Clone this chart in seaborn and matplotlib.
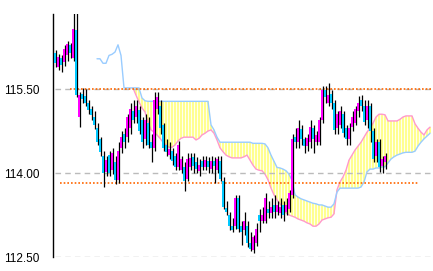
import numpy as np
import pandas as pd
import matplotlib
matplotlib.use("Agg")
import matplotlib.pyplot as plt
from matplotlib import font_manager
import seaborn as sns

# ---------------- data ----------------
OPEN = [116.14, 115.90, 116.05, 115.98, 116.10, 116.28, 116.05, 116.55, 115.00, 115.42,
        115.38, 115.25, 115.15, 115.00, 114.80, 114.60, 114.30, 114.02, 114.32, 114.05,
        114.20, 113.88, 114.45, 114.70, 114.65, 114.80, 115.10, 115.00, 115.12, 114.95,
        114.60, 114.90, 114.55, 114.45, 115.15, 115.20, 114.85, 114.50, 114.33, 114.40,
        114.30, 114.10, 114.05, 114.10, 113.90, 114.10, 114.28, 114.20, 114.03, 114.22,
        114.10, 114.22, 114.08, 114.22, 114.05, 114.22, 113.85, 113.38, 113.25, 113.05,
        113.05, 113.55, 113.05, 112.98, 113.05, 112.75, 112.62, 112.75, 113.25, 113.15,
        113.15, 113.35, 113.28, 113.42, 113.30, 113.28, 113.42, 113.30, 113.35, 113.60,
        114.65, 114.55, 114.78, 114.60, 114.48, 114.55, 114.80, 114.55, 114.55, 114.95,
        115.48, 115.25, 115.42, 115.25, 114.80, 114.85, 115.05, 114.80, 114.60, 114.82,
        114.90, 115.10, 115.30, 115.20, 114.95, 115.20, 114.75, 114.30, 114.55, 114.12,
        114.20]
HIGH = [116.20, 116.12, 116.10, 116.28, 116.35, 116.32, 116.90, 116.90, 115.45, 115.52,
        115.50, 115.30, 115.20, 115.10, 114.90, 114.65, 114.40, 114.30, 114.40, 114.45,
        114.30, 114.55, 114.75, 114.80, 115.05, 115.25, 115.30, 115.30, 115.20, 115.00,
        115.05, 115.00, 114.70, 115.45, 115.45, 115.30, 114.90, 114.60, 114.55, 114.45,
        114.35, 114.58, 114.30, 114.20, 114.35, 114.35, 114.35, 114.28, 114.25, 114.30,
        114.30, 114.28, 114.30, 114.28, 114.30, 114.30, 113.92, 113.50, 113.30, 113.20,
        113.60, 113.60, 113.15, 113.30, 113.15, 112.95, 112.90, 113.10, 113.35, 113.40,
        113.65, 113.50, 113.55, 113.60, 113.50, 113.55, 113.50, 113.55, 113.70, 114.70,
        114.80, 114.95, 114.85, 114.65, 114.70, 114.95, 114.85, 114.75, 115.00, 115.55,
        115.55, 115.60, 115.48, 115.30, 115.10, 115.20, 115.10, 114.85, 114.90, 115.10,
        115.20, 115.38, 115.40, 115.30, 115.30, 115.25, 114.80, 114.60, 114.60, 114.30,
        114.35]
LOW = [115.90, 115.84, 115.80, 115.92, 116.00, 116.05, 116.00, 115.35, 114.82, 115.25,
       115.20, 115.05, 114.95, 114.78, 114.50, 114.30, 113.75, 113.95, 113.95, 113.98,
       113.80, 113.82, 114.35, 114.45, 114.55, 114.70, 114.90, 114.90, 114.70, 114.45,
       114.50, 114.45, 114.20, 114.40, 115.05, 114.70, 114.40, 114.30, 114.25, 114.15,
       114.05, 114.05, 114.00, 113.67, 113.85, 114.05, 114.00, 114.00, 113.95, 114.05,
       114.05, 114.00, 114.00, 113.82, 114.00, 113.85, 113.35, 113.25, 112.98, 112.95,
       113.00, 112.95, 112.72, 112.90, 112.68, 112.60, 112.57, 112.70, 112.95, 113.10,
       113.10, 113.20, 113.20, 113.20, 113.25, 113.20, 113.15, 113.25, 113.30, 113.55,
       114.45, 114.45, 114.50, 114.35, 114.40, 114.45, 114.35, 114.50, 114.50, 114.90,
       115.25, 115.20, 115.15, 114.70, 114.70, 114.80, 114.65, 114.50, 114.50, 114.75,
       114.85, 115.00, 115.10, 114.85, 114.80, 114.55, 114.20, 114.20, 114.02, 114.00,
       114.08]
CLOSE = [115.96, 116.08, 115.93, 116.22, 116.30, 116.15, 116.58, 115.40, 115.40, 115.32,
         115.25, 115.12, 115.03, 114.85, 114.55, 114.38, 114.00, 114.23, 114.00, 114.35,
         113.88, 114.40, 114.65, 114.55, 115.00, 115.15, 114.95, 115.20, 114.75, 114.55,
         114.95, 114.50, 114.45, 115.30, 115.35, 114.80, 114.45, 114.38, 114.42, 114.22,
         114.10, 114.50, 114.25, 113.85, 114.25, 114.27, 114.12, 114.08, 114.15, 114.10,
         114.23, 114.10, 114.22, 114.12, 114.25, 113.90, 113.40, 113.30, 113.05, 112.98,
         113.55, 113.00, 112.95, 113.15, 112.75, 112.65, 112.85, 113.00, 113.15, 113.25,
         113.55, 113.28, 113.40, 113.30, 113.42, 113.40, 113.25, 113.43, 113.65, 114.60,
         114.55, 114.80, 114.60, 114.48, 114.62, 114.82, 114.60, 114.68, 114.95, 115.48,
         115.35, 115.40, 115.25, 114.77, 115.05, 115.10, 114.72, 114.60, 114.80, 115.00,
         115.15, 115.25, 115.20, 114.92, 115.20, 114.75, 114.25, 114.55, 114.10, 114.25,
         114.30]

SPAN_A_START = 14
SPAN_A = [116.04, 116.04, 115.96, 115.96, 116.10, 116.12, 116.16, 116.29, 116.10, 115.52,
          115.52, 115.52, 115.52, 115.52, 115.52, 115.34, 115.29, 115.28, 115.28, 115.28,
          115.28, 115.28, 115.28, 115.28, 115.28, 115.28, 115.28, 115.28, 115.28, 115.28,
          115.28, 115.28, 115.28, 115.28, 115.28, 115.28, 115.28, 115.28, 114.86, 114.77,
          114.64, 114.55, 114.55, 114.55, 114.55, 114.55, 114.55, 114.55, 114.55, 114.55,
          114.55, 114.55, 114.53, 114.53, 114.53, 114.53, 114.52, 114.45, 114.32, 114.21,
          114.10, 114.09, 114.07, 114.04, 113.98, 113.87, 113.61, 113.57, 113.54, 113.52,
          113.50, 113.48, 113.46, 113.45, 113.43, 113.43, 113.41, 113.39, 113.39, 113.45,
          113.66, 113.73, 113.73, 113.73, 113.73, 113.73, 113.73, 113.73, 113.75, 113.84,
          114.02, 114.07, 114.07, 114.09, 114.09, 114.11, 114.11, 114.18, 114.25, 114.29,
          114.32, 114.34, 114.36, 114.37, 114.37, 114.37, 114.39, 114.48, 114.55, 114.61,
          114.66, 114.71]

SPAN_B_START = 26
SPAN_B = [115.52, 115.39, 115.27, 115.16, 115.09, 114.91, 114.77, 114.73, 114.68, 114.62,
          114.55, 114.50, 114.46, 114.46, 114.50, 114.57, 114.62, 114.64, 114.64, 114.64,
          114.64, 114.59, 114.62, 114.68, 114.71, 114.75, 114.77, 114.71, 114.59, 114.45,
          114.38, 114.32, 114.29, 114.27, 114.27, 114.27, 114.27, 114.29, 114.32, 114.23,
          114.14, 114.07, 114.05, 114.04, 113.98, 113.88, 113.73, 113.61, 113.52, 113.45,
          113.39, 113.29, 113.25, 113.23, 113.21, 113.18, 113.16, 113.14, 113.11, 113.09,
          113.05, 113.05, 113.09, 113.16, 113.18, 113.20, 113.21, 113.27, 113.70, 113.84,
          113.93, 114.05, 114.23, 114.32, 114.41, 114.48, 114.55, 114.64, 114.73, 114.80,
          114.89, 115.00, 115.05, 115.05, 115.04, 114.93, 114.93, 114.93, 114.93, 114.96,
          115.00, 115.02, 115.02, 115.02, 114.88, 114.80, 114.73, 114.68, 114.77, 114.82]

GRID_LEVELS = [115.50, 114.00, 112.50]
ORANGE_LEVELS = [115.50, 113.82]
YTICKS = [112.50, 114.00, 115.50]

# ---------------- styling ----------------
sns.set_style("white")
_names = {f.name for f in font_manager.fontManager.ttflist}
_fam = "Liberation Sans Narrow" if "Liberation Sans Narrow" in _names else "Liberation Sans"
plt.rcParams["font.family"] = [_fam, "DejaVu Sans"]

UP_COLOR = "#FF00FF"
DOWN_COLOR = "#00C8FF"
SPAN_A_COLOR = "#99CCFF"
SPAN_B_COLOR = "#FF99CC"

n = len(CLOSE)
candles = pd.DataFrame({"i": np.arange(n), "open": OPEN, "high": HIGH,
                        "low": LOW, "close": CLOSE})
span_a = pd.DataFrame({"i": np.arange(SPAN_A_START, SPAN_A_START + len(SPAN_A)),
                       "v": SPAN_A})
span_b = pd.DataFrame({"i": np.arange(SPAN_B_START, SPAN_B_START + len(SPAN_B)),
                       "v": SPAN_B})
cloud = span_a.merge(span_b, on="i", suffixes=("_a", "_b"))

fig = plt.figure(figsize=(4.33, 2.71), dpi=100)
ax = fig.add_axes([53 / 433, 14 / 271, 1 - 53 / 433, (271 - 28) / 271])

# cloud: pale fill with vertical yellow stripes
ax.fill_between(cloud["i"], cloud["v_a"], cloud["v_b"], facecolor="#FFFFEE",
                linewidth=0, zorder=1)
ax.vlines(cloud["i"], np.minimum(cloud["v_a"], cloud["v_b"]),
          np.maximum(cloud["v_a"], cloud["v_b"]), colors="#FFFF90", lw=1.1,
          antialiased=False, zorder=1.5)
sns.lineplot(data=span_b, x="i", y="v", color=SPAN_B_COLOR, lw=1.0, ax=ax, zorder=2)
sns.lineplot(data=span_a, x="i", y="v", color=SPAN_A_COLOR, lw=1.0, ax=ax, zorder=2)

# reference lines
xmax = (433 - 55) / 3
for lv in GRID_LEVELS:
    ax.hlines(lv, 0, (430 - 55) / 3, colors="#BBBBBB", lw=1.0,
              linestyles=(0, (4, 3)), zorder=3)
ax.hlines(ORANGE_LEVELS[0], (70 - 55) / 3, xmax, colors="#FF6600", lw=1.2,
          linestyles=(0, (1, 1.2)), zorder=3)
ax.hlines(ORANGE_LEVELS[1], (60 - 55) / 3, (418 - 55) / 3, colors="#FF6600", lw=1.2,
          linestyles=(0, (1, 1.2)), zorder=3)

# candles
up = candles["close"] >= candles["open"]
ax.vlines(candles["i"] + 0.4, candles["low"], candles["high"], colors="black",
          lw=0.9, zorder=4)
ax.bar(candles["i"][up], (candles["close"] - candles["open"])[up],
       bottom=candles["open"][up], width=0.75, color=UP_COLOR, linewidth=0, zorder=5)
ax.bar(candles["i"][~up], (candles["open"] - candles["close"])[~up],
       bottom=candles["close"][~up], width=0.75, color=DOWN_COLOR, linewidth=0, zorder=5)

ax.set_xlim(-2 / 3, xmax)
ax.set_ylim(112.5, 116.84)
ax.set_yticks(YTICKS)
ax.set_yticklabels([f"{v:.2f}" for v in YTICKS], fontsize=8.5)
ax.set_xticks([])
ax.set_xlabel("")
ax.set_ylabel("")
ax.tick_params(axis="y", direction="in", length=4, width=1, pad=9.5, colors="black")
for s in ["top", "right", "bottom"]:
    ax.spines[s].set_visible(False)
ax.spines["left"].set_color("black")
ax.spines["left"].set_linewidth(1.0)

fig.savefig("out.png", dpi=100)
